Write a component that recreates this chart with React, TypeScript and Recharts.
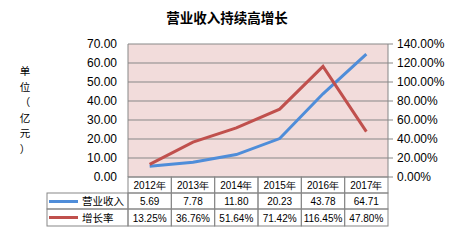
import React from 'react';
import { LineChart, Line, XAxis, YAxis, CartesianGrid } from 'recharts';

const years = ['2012年', '2013年', '2014年', '2015年', '2016年', '2017年'];
const revenue = [5.69, 7.78, 11.8, 20.23, 43.78, 64.71];
const growth = [0.1325, 0.3676, 0.5164, 0.7142, 1.1645, 0.478];
const leftTicks = [0, 10, 20, 30, 40, 50, 60, 70];
const rightTicks = [0, 0.2, 0.4, 0.6, 0.8, 1.0, 1.2, 1.4];
const unitLabel = ['单', '位', '（', '亿', '元', '）'];

const data = years.map((year, i) => ({
  year,
  revenue: revenue[i],
  growth: growth[i],
}));

const W = 454;
const H = 242;
const margin = { top: 44, right: 6, bottom: 16, left: 68 };
const yAxisW = 60;
const xAxisH = 49;
const plotLeft = margin.left + yAxisW;
const plotRight = W - margin.right - yAxisW;
const plotBottom = H - margin.bottom - xAxisH;
const colW = (plotRight - plotLeft) / years.length;
const rowH = [16, 16, 17];
const legendLeft = 47;

const BLUE = '#4F8DD9';
const RED = '#C0504D';
const GRID = '#878787';
const textStyle = { fontFamily: '"Liberation Sans", Arial, sans-serif' };
const cjk = '"Noto Sans CJK SC", sans-serif';

const fmtPct = (v: number) => (v * 100).toFixed(2) + '%';

function TableTick(props: any) {
  const { x, payload } = props;
  const i = payload.index;
  const left = x - colW / 2;
  const y0 = plotBottom;
  const y1 = y0 + rowH[0];
  const y2 = y1 + rowH[1];
  const cells = [years[i], revenue[i].toFixed(2), fmtPct(growth[i])];
  const tops = [y0, y1, y2];
  return (
    <g style={textStyle}>
      {cells.map((c, r) => (
        <g key={r}>
          <rect x={left} y={tops[r]} width={colW} height={rowH[r]} fill="none" stroke={GRID} />
          <text x={x} y={tops[r] + rowH[r] / 2 + 4} textAnchor="middle" fontSize={10} fill="#000">
            {c}
          </text>
        </g>
      ))}
      {i === 0 && (
        <g>
          <rect x={legendLeft} y={y1} width={plotLeft - legendLeft} height={rowH[1]} fill="none" stroke={GRID} />
          <rect x={legendLeft} y={y2} width={plotLeft - legendLeft} height={rowH[2]} fill="none" stroke={GRID} />
          <line x1={49} x2={78} y1={y1 + 8.5} y2={y1 + 8.5} stroke={BLUE} strokeWidth={3} />
          <line x1={49} x2={78} y1={y2 + 8.5} y2={y2 + 8.5} stroke={RED} strokeWidth={3} />
          <text x={82} y={y1 + 12} fontSize={10.5} fill="#000" fontFamily={cjk}>营业收入</text>
          <text x={82} y={y2 + 12.5} fontSize={10.5} fill="#000" fontFamily={cjk}>增长率</text>
        </g>
      )}
    </g>
  );
}

function UnitLabel() {
  return (
    <text x={25} y={75} textAnchor="middle" fontSize={10.5} fill="#000" fontFamily={cjk}>
      {unitLabel.map((ch, i) => (
        <tspan key={i} x={25} dy={i === 0 ? 0 : 15.6}>
          {ch}
        </tspan>
      ))}
    </text>
  );
}

export default function App() {
  return (
    <div style={{ position: 'absolute', left: 0, top: 0, width: W, height: H, background: '#fff' }}>
      <div
        style={{
          position: 'absolute',
          left: 0,
          top: 7,
          width: W,
          textAlign: 'center',
          fontFamily: cjk,
          fontWeight: 'bold',
          fontSize: 13.5,
          lineHeight: '20px',
        }}
      >
        营业收入持续高增长
      </div>
      <LineChart width={W} height={H} data={data} margin={margin}>
        <CartesianGrid vertical={false} fill="#F2DCDB" stroke={GRID} yAxisId="left" />
        <XAxis
          dataKey="year"
          scale="band"
          height={xAxisH}
          axisLine={false}
          tickLine={false}
          interval={0}
          tick={<TableTick />}
        />
        <YAxis
          yAxisId="left"
          width={yAxisW}
          domain={[0, 70]}
          ticks={leftTicks}
          interval={0}
          tickFormatter={(v: number) => v.toFixed(2)}
          axisLine={{ stroke: GRID }}
          tickLine={false}
          tickSize={0}
          tickMargin={11}
          tick={{ fontSize: 12, fill: '#000', ...textStyle }}
          label={<UnitLabel />}
        />
        <YAxis
          yAxisId="right"
          orientation="right"
          width={yAxisW}
          domain={[0, 1.4]}
          ticks={rightTicks}
          interval={0}
          tickFormatter={fmtPct}
          axisLine={{ stroke: GRID }}
          tickLine={{ stroke: GRID }}
          tickSize={5}
          tickMargin={4}
          tick={{ fontSize: 12, fill: '#000', ...textStyle }}
        />
        <Line
          yAxisId="left"
          dataKey="revenue"
          stroke={BLUE}
          strokeWidth={3}
          dot={false}
          isAnimationActive={false}
        />
        <Line
          yAxisId="right"
          dataKey="growth"
          stroke={RED}
          strokeWidth={3}
          dot={false}
          isAnimationActive={false}
        />
      </LineChart>
    </div>
  );
}
